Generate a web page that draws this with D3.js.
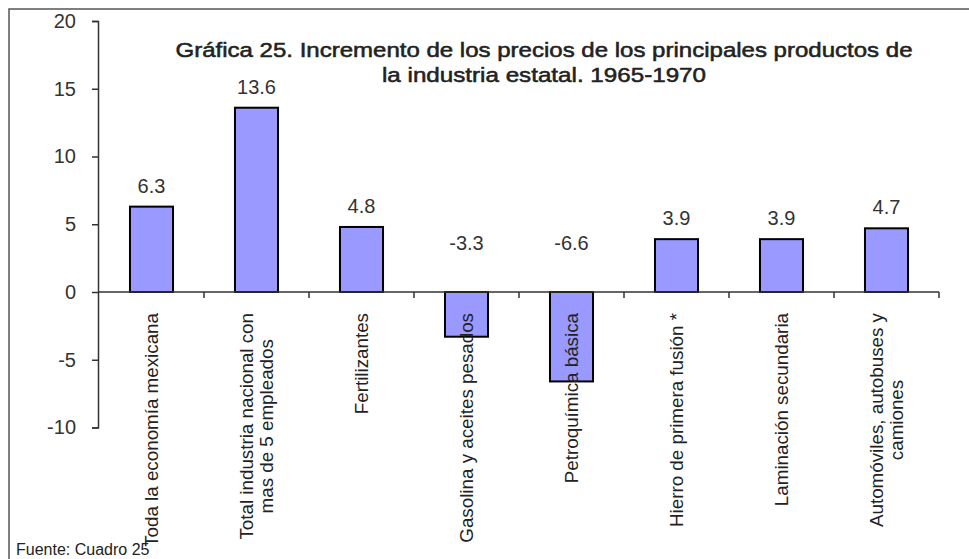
<!DOCTYPE html>
<html>
<head>
<meta charset="utf-8">
<script src="https://cdn.jsdelivr.net/npm/d3@7"></script>
<style>
  html, body { margin: 0; padding: 0; background: #fff; }
  svg { display: block; }
  text { font-family: "Liberation Sans", Arial, sans-serif; }
</style>
</head>
<body>
<svg id="chart" width="969" height="559"></svg>
<script>
const categories = [
  ["Toda la economía mexicana"],
  ["Total industria nacional con", "mas de 5 empleados"],
  ["Fertilizantes"],
  ["Gasolina y aceites pesados"],
  ["Petroquímica básica"],
  ["Hierro de primera fusión *"],
  ["Laminación secundaria"],
  ["Automóviles, autobuses y", "camiones"]
];
const values = [6.3, 13.6, 4.8, -3.3, -6.6, 3.9, 3.9, 4.7];
const valueLabels = ["6.3", "13.6", "4.8", "-3.3", "-6.6", "3.9", "3.9", "4.7"];
const yTicks = [-10, -5, 0, 5, 10, 15, 20];
const titleLines = [
  "Gráfica 25. Incremento de los precios de los principales productos de",
  "la industria estatal. 1965-1970"
];
const sourceNote = "Fuente: Cuadro 25";

const svg = d3.select("#chart");
const keys = categories.map((c, i) => i);

// outer frame
svg.append("rect")
  .attr("x", 9).attr("y", 9).attr("width", 990).attr("height", 580)
  .attr("fill", "#fff").attr("stroke", "#555").attr("stroke-width", 1.5);

const y = d3.scaleLinear().domain([-10, 20]).range([427.5, 21]);
const x = d3.scaleBand().domain(keys).range([99, 939])
  .paddingInner(0.59).paddingOuter(0.295);
const step = x.step();

// y axis
const yAxis = svg.append("g")
  .attr("transform", "translate(98,0)")
  .call(d3.axisLeft(y).tickValues(yTicks).tickSize(6).tickSizeOuter(6).tickPadding(16)
    .tickFormat(d => String(d)));
yAxis.select(".domain").attr("stroke", "#333").attr("stroke-width", 1.5);
yAxis.selectAll(".tick line").attr("stroke", "#333").attr("stroke-width", 1.5);
yAxis.selectAll(".tick text")
  .attr("font-family", "Liberation Sans, Arial, sans-serif")
  .attr("font-size", 20).attr("fill", "#333");

// bars
svg.append("g").selectAll("rect")
  .data(values)
  .join("rect")
  .attr("x", (d, i) => x(i))
  .attr("width", x.bandwidth())
  .attr("y", d => y(Math.max(0, d)))
  .attr("height", d => Math.abs(y(d) - y(0)))
  .attr("fill", "#9999FF")
  .attr("stroke", "#000")
  .attr("stroke-width", 2);

// x axis
const xAxisG = svg.append("g");
xAxisG.append("line")
  .attr("x1", 98).attr("x2", x(keys[keys.length - 1]) + x.bandwidth() + (step - x.bandwidth()) / 2)
  .attr("y1", y(0)).attr("y2", y(0))
  .attr("stroke", "#333").attr("stroke-width", 1.5);
xAxisG.selectAll("line.tk")
  .data(keys)
  .join("line")
  .attr("class", "tk")
  .attr("x1", d => x(d) + x.bandwidth() + (step - x.bandwidth()) / 2)
  .attr("x2", d => x(d) + x.bandwidth() + (step - x.bandwidth()) / 2)
  .attr("y1", y(0)).attr("y2", y(0) + 6)
  .attr("stroke", "#333").attr("stroke-width", 1.5);

// value labels
svg.append("g").selectAll("text")
  .data(values)
  .join("text")
  .attr("x", (d, i) => x(i) + x.bandwidth() / 2)
  .attr("y", d => d >= 0 ? y(d) - 14 : y(0) - 42)
  .attr("text-anchor", "middle")
  .attr("font-size", 20)
  .attr("fill", "#333")
  .text((d, i) => valueLabels[i]);

// category labels (rotated)
const catTop = y(0) + 21;
categories.forEach((lines, i) => {
  const cx = x(i) + x.bandwidth() / 2;
  const g = svg.append("g").attr("transform", `translate(${cx},0) rotate(-90)`);
  const texts = g.selectAll("text").data(lines).join("text")
    .attr("text-anchor", "middle")
    .attr("dominant-baseline", "central")
    .attr("font-size", 18.8)
    .attr("fill", "#222")
    .attr("y", (d, j) => (j - (lines.length - 1) / 2) * 20)
    .text(d => d);
  let maxLen = 0;
  texts.each(function () { maxLen = Math.max(maxLen, this.getComputedTextLength()); });
  texts.attr("x", -(catTop + maxLen / 2));
});

// title
svg.append("g").selectAll("text")
  .data(titleLines)
  .join("text")
  .attr("x", 544)
  .attr("y", (d, i) => 57 + i * 25)
  .attr("text-anchor", "middle")
  .attr("font-size", 21)
  .attr("fill", "#222")
  .attr("stroke", "#222")
  .attr("stroke-width", 0.55)
  .attr("textLength", (d, i) => i === 0 ? 737 : 324)
  .attr("lengthAdjust", "spacingAndGlyphs")
  .text(d => d);

// source note
svg.append("text")
  .attr("x", 16).attr("y", 555)
  .attr("font-size", 16)
  .attr("fill", "#222")
  .text(sourceNote);
</script>
</body>
</html>
